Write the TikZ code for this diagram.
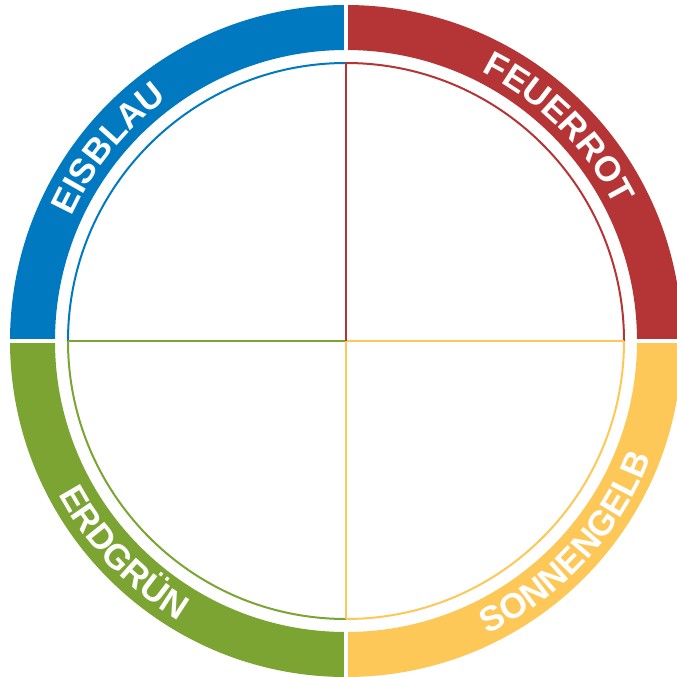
\documentclass[tikz,border=0pt]{standalone}
\usepackage{fontspec}
\setmainfont{Liberation Sans}
\usetikzlibrary{decorations.text}
\definecolor{cblue}{RGB}{0,121,193}
\definecolor{cred}{RGB}{181,52,53}
\definecolor{cgreen}{RGB}{123,164,50}
\definecolor{cyellow}{RGB}{254,200,88}
\tikzset{
  thin line/.style={line width=2pt},
  ringlabel/.style={decorate, decoration={text along path, text align=center,
     text={|\bfseries\fontsize{35}{35}\selectfont\color{white}|#1}}}
}
\begin{document}
\begin{tikzpicture}[x=1pt,y=1pt]
\useasboundingbox (-346,-336) rectangle (331,341);
\clip (-346,-336) rectangle (331,341);
% ring quadrants
\fill[cblue] (180:336) arc[start angle=180,end angle=90,radius=336] -- (90:291) arc[start angle=90,end angle=180,radius=291] -- cycle;
\fill[cred] (90:336) arc[start angle=90,end angle=0,radius=336] -- (0:291) arc[start angle=0,end angle=90,radius=291] -- cycle;
\fill[cyellow] (0:336) arc[start angle=0,end angle=-90,radius=336] -- (-90:291) arc[start angle=-90,end angle=0,radius=291] -- cycle;
\fill[cgreen] (270:336) arc[start angle=270,end angle=180,radius=336] -- (180:291) arc[start angle=180,end angle=270,radius=291] -- cycle;
% gaps
\fill[white] (-2.2,285) rectangle (2.2,340);
\fill[white] (-2.2,-340) rectangle (2.2,-285);
\fill[white] (285,-2.2) rectangle (340,2.2);
\fill[white] (-340,-2.2) rectangle (-285,2.2);
% inner thin lines
\coordinate (c) at (0,0);
\coordinate (top) at (90:278);
\coordinate (bot) at (-90:278);
\coordinate (lft) at (180:278);
\coordinate (rgt) at (0:278);
\draw[thin line,cblue] (lft) arc[start angle=180,end angle=90,radius=278];
\draw[thin line,cred] (top) arc[start angle=90,end angle=0,radius=278];
\draw[thin line,cyellow] (rgt) arc[start angle=0,end angle=-90,radius=278];
\draw[thin line,cgreen] (bot) arc[start angle=270,end angle=180,radius=278];
\draw[thin line,cgreen] (lft) -- (c);
\draw[thin line,cyellow] (rgt) -- (c);
\draw[thin line,cyellow] (bot) -- (c);
\draw[thin line,cred] (top) -- (c);
% labels
\path[ringlabel=EISBLAU] (171:301) arc[start angle=171,end angle=111,radius=301];
\path[ringlabel=FEUERROT] (75:301) arc[start angle=75,end angle=15,radius=301];
\path[ringlabel=ERDGRÜN] (193.6:326) arc[start angle=193.6,end angle=253.6,radius=326];
\path[ringlabel=SONNENGELB] (-72.5:326) arc[start angle=-72.5,end angle=-12.5,radius=326];
\end{tikzpicture}
\end{document}
